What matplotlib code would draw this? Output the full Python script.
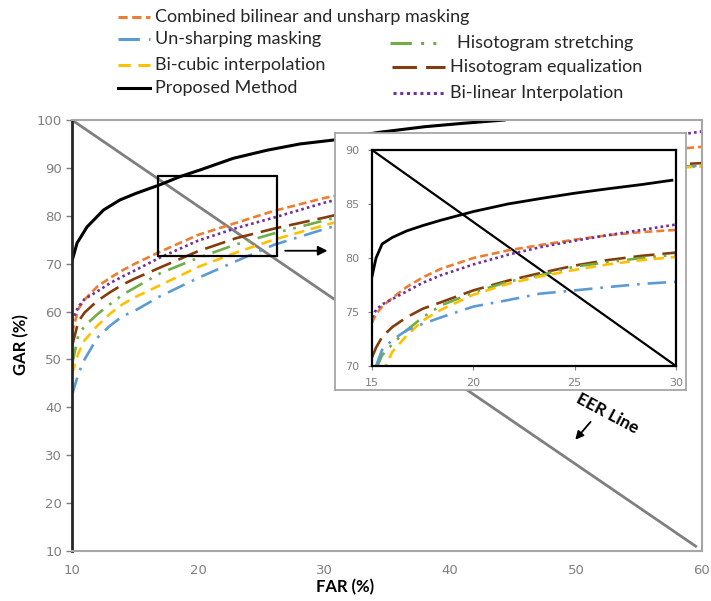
import numpy as np
import matplotlib
matplotlib.use("Agg")
import matplotlib.pyplot as plt
from matplotlib.lines import Line2D
from matplotlib.patches import Rectangle

# ---- data ----
far = [10, 10.5, 11, 12, 13, 14, 15, 17, 20, 23, 26, 30, 35, 40, 45, 50, 55, 60]
gar_combined = [55.5, 60.5, 62.5, 65.2, 67.0, 68.6, 70.0, 72.5, 76.0, 78.5, 81.0, 83.7, 86.3, 88.5, 90.4, 92.0, 93.3, 94.4]
gar_bilinear = [58.0, 61.0, 62.6, 64.2, 65.9, 67.3, 68.6, 71.3, 74.8, 77.4, 79.6, 82.7, 86.0, 89.0, 91.6, 93.8, 95.8, 97.6]
gar_histeq = [52.7, 57.9, 59.8, 62.2, 64.0, 65.6, 66.9, 69.2, 72.6, 75.3, 77.3, 79.6, 82.6, 85.2, 87.3, 89.0, 90.3, 91.0]
gar_histst = [48.9, 55.0, 57.0, 59.4, 61.5, 63.5, 65.0, 68.0, 71.2, 74.0, 76.3, 79.0, 82.2, 84.9, 87.0, 88.6, 89.7, 90.5]
gar_bicubic = [47.0, 51.3, 54.0, 57.0, 59.5, 61.5, 63.0, 65.5, 69.3, 72.3, 75.0, 78.0, 81.5, 84.5, 86.8, 88.5, 89.6, 90.3]
gar_unsharp = [42.5, 47.0, 50.0, 54.5, 57.0, 59.0, 60.2, 63.2, 67.0, 70.5, 73.9, 77.2, 81.0, 84.3, 86.8, 88.6, 89.7, 90.4]

far_prop = [10, 10.1, 10.4, 11.2, 12.5, 13.8, 15.1, 16.9, 18.6, 20.2, 22.8, 25.5, 28.1, 30.7, 34.3, 38, 41, 44.3]
gar_prop = [70.5, 71.5, 74.3, 77.7, 81.2, 83.3, 84.7, 86.4, 88.2, 89.6, 92.0, 93.7, 95.0, 95.8, 97.4, 98.6, 99.3, 100]

eer_far = [10, 59.5]
eer_gar = [100, 11]

# zoomed view
far_z = [15, 15.2, 15.5, 16, 16.7, 17.5, 18.4, 20, 21.7, 23.3, 25, 26.6, 28.3, 30]
nan = np.nan
z_combined = [74.0, 74.8, 75.5, 76.3, 77.3, 78.2, 79.0, 80.0, 80.7, 81.2, 81.7, 82.1, 82.4, 82.6]
z_bilinear = [74.5, 75.2, 75.7, 76.2, 76.9, 77.7, 78.4, 79.4, 80.3, 81.0, 81.6, 82.1, 82.6, 83.1]
z_histeq = [70.8, 71.7, 72.7, 73.6, 74.5, 75.3, 75.9, 77.0, 77.9, 78.6, 79.3, 79.8, 80.2, 80.5]
z_histst = [nan, 69.7, 71.0, 72.0, 73.3, 74.5, 75.6, 76.8, 77.8, 78.4, 79.2, 79.6, 80.0, 80.3]
z_bicubic = [nan, nan, 69.3, 71.3, 72.8, 74.2, 75.2, 76.6, 77.6, 78.3, 78.9, 79.4, 79.8, 80.1]
z_unsharp = [nan, 70.0, 71.5, 72.4, 73.3, 73.9, 74.5, 75.5, 76.1, 76.7, 77.0, 77.3, 77.6, 77.8]
far_z_prop = [15, 15.2, 15.5, 16, 16.7, 17.5, 18.4, 20, 21.7, 23.3, 25, 26.6, 28.3, 29.8]
z_prop = [78.3, 80.0, 81.3, 81.9, 82.5, 83.0, 83.5, 84.3, 85.0, 85.5, 86.0, 86.4, 86.8, 87.2]
z_eer_far = [15, 30]
z_eer_gar = [90, 70]

# ---- styles ----
styles = {
    "combined": dict(color="#ED7D31", ls=(0, (3, 1.5))),
    "unsharp": dict(color="#5B9BD5", ls=(0, (7, 3, 1, 3))),
    "bicubic": dict(color="#FFC000", ls=(0, (4, 2.5))),
    "proposed": dict(color="black", ls="-"),
    "histst": dict(color="#70AD47", ls=(0, (7, 3, 1, 3, 1, 3))),
    "histeq": dict(color="#843C0C", ls=(0, (8, 3))),
    "bilinear": dict(color="#7030A0", ls=(0, (1, 1.2))),
}
labels = {
    "combined": "Combined bilinear and unsharp masking",
    "unsharp": "Un-sharping masking",
    "bicubic": "Bi-cubic interpolation",
    "proposed": "Proposed Method",
    "histst": "Hisotogram stretching",
    "histeq": "Hisotogram equalization",
    "bilinear": "Bi-linear Interpolation",
}
LW = 1.9
TICK_COLOR = "#7F7F7F"
FRAME_GRAY = "#A6A6A6"

W, H = 711, 601
fig = plt.figure(figsize=(W / 100, H / 100), dpi=100)


def fx(px):
    return px / W


def fy(py):
    return 1 - py / H


# ---- main axes ----
ax = fig.add_axes([fx(72), fy(551), fx(702) - fx(72), fy(120) - fy(551)])
ax.plot(eer_far, eer_gar, color="#7F7F7F", lw=2.0)
main_series = [("combined", gar_combined), ("bilinear", gar_bilinear), ("histeq", gar_histeq),
               ("histst", gar_histst), ("bicubic", gar_bicubic), ("unsharp", gar_unsharp)]
for key, vals in main_series:
    ax.plot(far, vals, lw=LW, **styles[key])
ax.plot(far_prop, gar_prop, lw=2.2, **styles["proposed"])

ax.set_xlim(10, 60)
ax.set_ylim(10, 100)
ax.set_xticks(range(10, 61, 10))
ax.set_yticks(range(10, 101, 10))
ax.tick_params(axis="x", length=0, pad=9, labelsize=9.5, labelcolor=TICK_COLOR)
ax.tick_params(axis="y", length=4, width=1, color=TICK_COLOR, pad=3, labelsize=9.5, labelcolor=TICK_COLOR)
for s in ["top", "right", "bottom"]:
    ax.spines[s].set_color(FRAME_GRAY)
    ax.spines[s].set_linewidth(1.5)
ax.spines["left"].set_color("#262626")
ax.spines["left"].set_linewidth(2)

# zoom rectangle + arrow
ax.add_patch(Rectangle((16.8, 71.6), 9.45, 16.8, fill=False, ec="black", lw=1.6, zorder=5))
ax.annotate("", xy=(30.5, 72.7), xytext=(26.7, 72.7),
            arrowprops=dict(arrowstyle="-|>", color="black", lw=1.3, mutation_scale=14))

# EER label
ax.text(52.5, 38.8, "EER Line", rotation=-28, ha="center", va="center",
        fontsize=12.5, fontweight="bold", family="Lato")
ax.annotate("", xy=(49.8, 32.8), xytext=(51.3, 37.4),
            arrowprops=dict(arrowstyle="-|>", color="black", lw=1.3, mutation_scale=12))

# ---- inset frame + inset axes ----
frame = fig.add_axes([fx(335), fy(390), fx(686) - fx(335), fy(133) - fy(390)])
frame.set_facecolor("white")
frame.set_xticks([])
frame.set_yticks([])
for s in frame.spines.values():
    s.set_color(FRAME_GRAY)
    s.set_linewidth(1.3)
frame.set_zorder(10)

axi = fig.add_axes([fx(372), fy(366), fx(676) - fx(372), fy(150) - fy(366)])
axi.set_zorder(11)
axi.plot(z_eer_far, z_eer_gar, color="black", lw=1.6)
zoom_series = [("combined", z_combined), ("bilinear", z_bilinear), ("histeq", z_histeq),
               ("histst", z_histst), ("bicubic", z_bicubic), ("unsharp", z_unsharp)]
for key, vals in zoom_series:
    axi.plot(far_z, vals, lw=LW, **styles[key])
axi.plot(far_z_prop, z_prop, lw=2.0, **styles["proposed"])
axi.set_xlim(15, 30)
axi.set_ylim(70, 90)
axi.set_xticks([15, 20, 25, 30])
axi.set_yticks([70, 75, 80, 85, 90])
axi.tick_params(length=3, color=TICK_COLOR, pad=6, labelsize=8, labelcolor=TICK_COLOR)
for s in axi.spines.values():
    s.set_color("black")
    s.set_linewidth(1.6)

# ---- axis titles ----
fig.text(fx(345), fy(587), "FAR (%)", ha="center", va="center",
         fontsize=12, fontweight="bold", family="Lato")
fig.text(fx(21), fy(345), "GAR (%)", ha="center", va="center", rotation=90,
         fontsize=12, fontweight="bold", family="Lato")

# ---- legend (two columns, placed like the reference) ----
legend_rows = [
    ("combined", 118, 150, 155, 17),
    ("unsharp", 118, 150, 155, 39),
    ("bicubic", 118, 150, 155, 65),
    ("proposed", 118, 150, 155, 88),
    ("histst", 390, 445, 457, 43),
    ("histeq", 392, 445, 450, 67),
    ("bilinear", 393, 445, 450, 93),
]
for key, x0, x1, xt, yr in legend_rows:
    fig.add_artist(Line2D([fx(x0), fx(x1)], [fy(yr), fy(yr)], transform=fig.transFigure,
                          lw=2.2, **styles[key]))
    fig.text(fx(xt), fy(yr), labels[key], ha="left", va="center",
             fontsize=13, family="Lato", color="#262626")

fig.savefig("out.png", dpi=100)
